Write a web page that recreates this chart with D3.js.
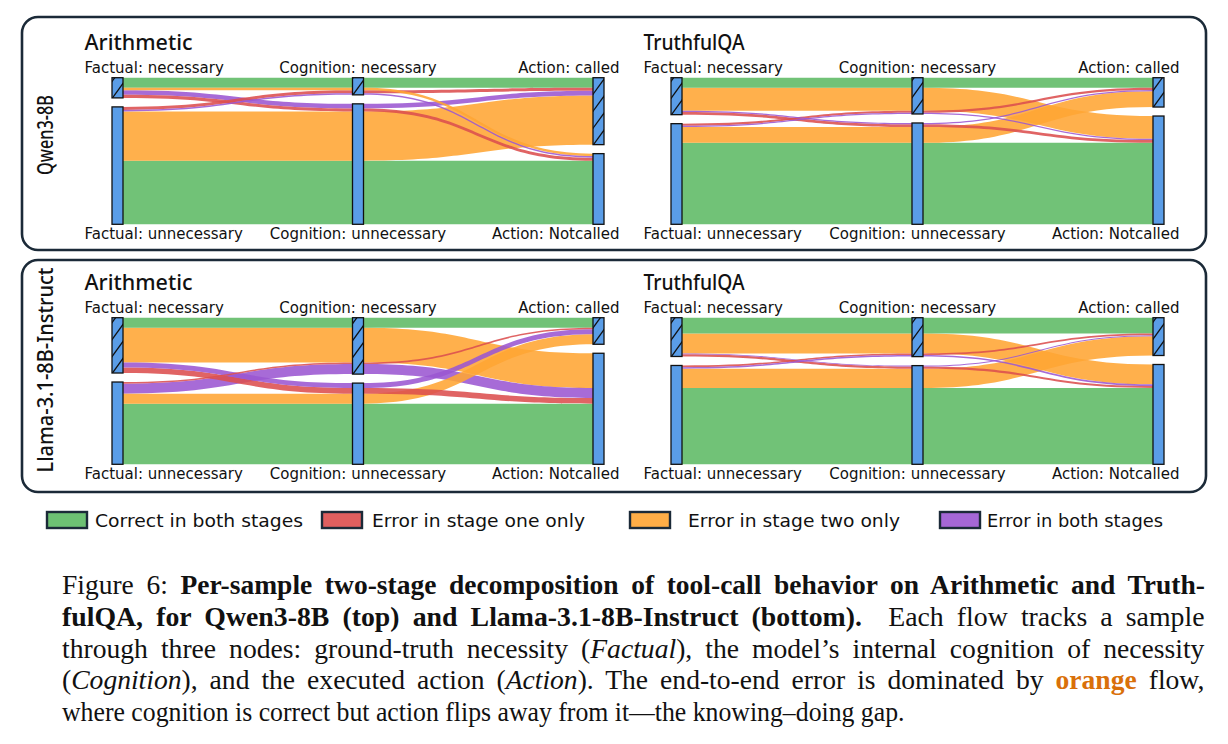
<!DOCTYPE html>
<html>
<head>
<meta charset="utf-8">
<title>Two-stage decomposition of tool-call behavior</title>
<script src="https://cdn.jsdelivr.net/npm/d3@7"></script>
<style>
  body { margin: 0; background: #fff; }
  svg { display: block; }
  text { white-space: pre; }
</style>
</head>
<body>
<svg id="fig" width="1228" height="744"></svg>
<script>
// rows = models, columns = tasks
var models = ["Qwen3-8B", "Llama-3.1-8B-Instruct"];
var tasks = ["Arithmetic", "TruthfulQA"];
var stages = ["Factual", "Cognition", "Action"];
var topNames = ["necessary", "necessary", "called"];
var bottomNames = ["unnecessary", "unnecessary", "Notcalled"];

// one path per sample type: Factual / Cognition / Action
// N = necessary (called), U = unnecessary (not called)
var paths = ["NNN", "NNU", "NUN", "NUU", "UNN", "UNU", "UUN", "UUU"];

// share of samples (%) on each path
var qwenArithmetic  = [7.3, 1.8, 3.3, 2.2, 2.2, 1.1, 35.6, 46.0];
var qwenTruthfulQA  = [7.3, 16.4, 0.9, 2.0, 1.5, 0.9, 11.4, 58.6];
var llamaArithmetic = [7.3, 25.4, 3.6, 4.1, 1.2, 7.3, 7.3, 44.3];
var llamaTruthfulQA = [11.3, 14.2, 0.7, 1.5, 1.2, 1.1, 13.8, 54.5];

var categories = ["Correct in both stages", "Error in stage one only", "Error in stage two only", "Error in both stages"];
var colors = ["#5dba64", "#dc4e4e", "#ffa533", "#9b56d2"];

var svg = d3.select("#fig");
var nodeW = 11, gap = 9;

// category of a path: which stage(s) flip
function category(p) {
  var e1 = p[0] != p[1], e2 = p[1] != p[2];
  if (!e1 && !e2) return 0;
  if (e1 && !e2) return 1;
  if (!e1 && e2) return 2;
  return 3;
}

// order of bands inside a node, per column
var sortKeys = [[1, 2], [0, 2], [1, 0]];

function band(xa, a, xb, b) {
  var xm = (xa + xb) / 2;
  return "M" + xa + "," + a.y0 + "C" + xm + "," + a.y0 + " " + xm + "," + b.y0 + " " + xb + "," + b.y0 +
         "L" + xb + "," + b.y1 + "C" + xm + "," + b.y1 + " " + xm + "," + a.y1 + " " + xa + "," + a.y1 + "Z";
}

var clipId = 0;
var titleW = [108, 101];

function drawSankey(values, ti, cx0, cx2, yTop, yBot) {
  var g = svg.append("g");
  var x = d3.scalePoint().domain(stages).range([cx0, cx2]);
  var total = d3.sum(values);
  var h = d3.scaleLinear().domain([0, total]).range([0, yBot - yTop - gap]);

  // stack the bands at each column
  var pos = [], nodes = [];
  stages.forEach(function(s, c) {
    var idx = d3.range(paths.length).sort(function(a, b) {
      var k = sortKeys[c];
      var ka = paths[a][c] + paths[a][k[0]] + paths[a][k[1]];
      var kb = paths[b][c] + paths[b][k[0]] + paths[b][k[1]];
      return ka < kb ? -1 : ka > kb ? 1 : 0;
    });
    var topSum = d3.sum(paths.map(function(p, i) { return p[c] == "N" ? values[i] : 0; }));
    var yN = yTop, yU = yTop + h(topSum) + gap;
    nodes.push({c: c, top: true, y0: yTop, y1: yTop + h(topSum)});
    nodes.push({c: c, top: false, y0: yU, y1: yBot});
    pos[c] = [];
    idx.forEach(function(i) {
      var v = h(values[i]);
      if (paths[i][c] == "N") { pos[c][i] = {y0: yN, y1: yN + v}; yN += v; }
      else { pos[c][i] = {y0: yU, y1: yU + v}; yU += v; }
    });
  });

  // links, thick ones first so the thin ones stay visible
  var order = d3.range(paths.length).sort(function(a, b) { return values[b] - values[a]; });
  [0, 1].forEach(function(c) {
    g.append("g").selectAll("path")
      .data(order)
      .enter()
      .append("path")
      .attr("d", function(i) {
        return band(x(stages[c]) + nodeW / 2, pos[c][i], x(stages[c + 1]) - nodeW / 2, pos[c + 1][i]);
      })
      .attr("fill", function(i) { return colors[category(paths[i])]; })
      .attr("fill-opacity", 0.88);
  });

  // nodes
  var ng = g.append("g");
  nodes.forEach(function(n) {
    var nx = x(stages[n.c]) - nodeW / 2;
    ng.append("rect")
      .attr("x", nx).attr("y", n.y0)
      .attr("width", nodeW).attr("height", n.y1 - n.y0)
      .attr("fill", "#5a9de7");
    if (n.top) {
      // hatch '/' clipped to the node
      var id = "clip" + (clipId++);
      svg.append("clipPath").attr("id", id)
        .append("rect").attr("x", nx).attr("y", n.y0).attr("width", nodeW).attr("height", n.y1 - n.y0);
      var hg = ng.append("g").attr("clip-path", "url(#" + id + ")");
      for (var yy = n.y1 + 2; yy > n.y0 - 20; yy -= 17) {
        hg.append("line")
          .attr("x1", nx - 1).attr("y1", yy)
          .attr("x2", nx + nodeW + 1).attr("y2", yy - 18)
          .attr("stroke", "#111").attr("stroke-width", 1.3);
      }
    }
    ng.append("rect")
      .attr("x", nx).attr("y", n.y0)
      .attr("width", nodeW).attr("height", n.y1 - n.y0)
      .attr("fill", "none").attr("stroke", "#111").attr("stroke-width", 1.3);
  });

  // labels
  var lx = [cx0 - 33, (cx0 + cx2) / 2, cx2 + 21];
  var anchors = ["start", "middle", "end"];
  stages.forEach(function(s, c) {
    var tx = c == 1 ? x(s) : lx[c];
    g.append("text").attr("x", tx).attr("y", yTop - 5)
      .attr("text-anchor", anchors[c])
      .attr("font-family", "DejaVu Sans").attr("font-size", 15).attr("fill", "#111")
      .text(s + ": " + topNames[c]);
    g.append("text").attr("x", tx).attr("y", yBot + 15)
      .attr("text-anchor", anchors[c])
      .attr("font-family", "DejaVu Sans").attr("font-size", 15).attr("fill", "#111")
      .text(s + ": " + bottomNames[c]);
  });
  g.append("text").attr("x", cx0 - 33).attr("y", yTop - 28)
    .attr("font-family", "Noto Sans").attr("font-size", 21).attr("font-weight", 500).attr("fill", "#111")
    .attr("textLength", titleW[ti]).attr("lengthAdjust", "spacingAndGlyphs")
    .text(tasks[ti]);
}

// panels
var panelY = [17, 260], panelH = [233, 232];
var valuesGrid = [[qwenArithmetic, qwenTruthfulQA], [llamaArithmetic, llamaTruthfulQA]];
var labelY = [135, 370];
var labelW = [80, 205];

models.forEach(function(m, r) {
  svg.append("rect")
    .attr("x", 22).attr("y", panelY[r])
    .attr("width", 1184).attr("height", panelH[r])
    .attr("rx", 16)
    .attr("fill", "none").attr("stroke", "#1b2a38").attr("stroke-width", 2.6);
  svg.append("text")
    .attr("transform", "translate(53," + labelY[r] + ") rotate(-90)")
    .attr("text-anchor", "middle")
    .attr("font-family", "Noto Sans").attr("font-size", 21).attr("font-weight", 500).attr("fill", "#111")
    .attr("textLength", labelW[r]).attr("lengthAdjust", "spacingAndGlyphs")
    .text(m);
  var yTop = 77.7 + r * 240, yBot = 224.3 + r * 240;
  drawSankey(valuesGrid[r][0], 0, 117.5, 598.5, yTop, yBot);
  drawSankey(valuesGrid[r][1], 1, 676.5, 1158.5, yTop, yBot);
});

// legend
var legendX = [47, 322, 630, 940];
var legendTextX = [95, 372, 688, 987];
var legendTextW = [208, 213, 212, 176];
var lg = svg.append("g");
categories.forEach(function(cat, i) {
  lg.append("rect")
    .attr("x", legendX[i]).attr("y", 512)
    .attr("width", 40).attr("height", 16)
    .attr("fill", colors[i]).attr("fill-opacity", 0.9)
    .attr("stroke", "#1b2a38").attr("stroke-width", 2.4);
  lg.append("text")
    .attr("x", legendTextX[i]).attr("y", 527)
    .attr("font-family", "DejaVu Sans").attr("font-size", 18).attr("fill", "#111")
    .attr("textLength", legendTextW[i]).attr("lengthAdjust", "spacingAndGlyphs")
    .text(cat);
});

// caption: justified lines get a bit of extra word spacing, then every line is squeezed to its width
var captionLines = [
  [["Figure 6: ", "n"], ["Per-sample two-stage decomposition of tool-call behavior on Arithmetic and Truth-", "b"]],
  [["fulQA, for Qwen3-8B (top) and Llama-3.1-8B-Instruct (bottom).", "b"], ["  Each flow tracks a sample", "n"]],
  [["through three nodes: ground-truth necessity (", "n"], ["Factual", "i"], ["), the model\u2019s internal cognition of necessity", "n"]],
  [["(", "n"], ["Cognition", "i"], ["), and the executed action (", "n"], ["Action", "i"], ["). The end-to-end error is dominated by ", "n"], ["orange", "o"], [" flow,", "n"]],
  [["where cognition is correct but action flips away from it\u2014the knowing\u2013doing gap.", "n"]]
];
var capX = 62, capY0 = 594, capDy = 31.8, capW = 1143, lastW = 843;
var capTexts = captionLines.map(function(line) {
  var t = svg.append("text")
    .attr("font-family", "Liberation Serif").attr("font-size", 28).attr("fill", "#111");
  line.forEach(function(seg) {
    var ts = t.append("tspan").text(seg[0]);
    if (seg[1] == "b" || seg[1] == "o") ts.attr("font-weight", "bold");
    if (seg[1] == "i") ts.attr("font-style", "italic");
    if (seg[1] == "o") ts.attr("fill", "#d9700a");
  });
  return t;
});
var sx = lastW / capTexts[4].node().getComputedTextLength();
capTexts.forEach(function(t, li) {
  var y = capY0 + li * capDy;
  if (li < 4) {
    var w = t.node().getComputedTextLength();
    var n = t.text().split(" ").length - 1;
    t.attr("word-spacing", Math.max(0, (capW / sx - w) / n) * 0.45);
    var w2 = t.node().getComputedTextLength();
    t.attr("transform", "translate(" + capX + "," + y + ") scale(" + (capW / w2) + ",1)");
  } else {
    t.attr("transform", "translate(" + capX + "," + y + ") scale(" + sx + ",1)");
  }
});
</script>
</body>
</html>
